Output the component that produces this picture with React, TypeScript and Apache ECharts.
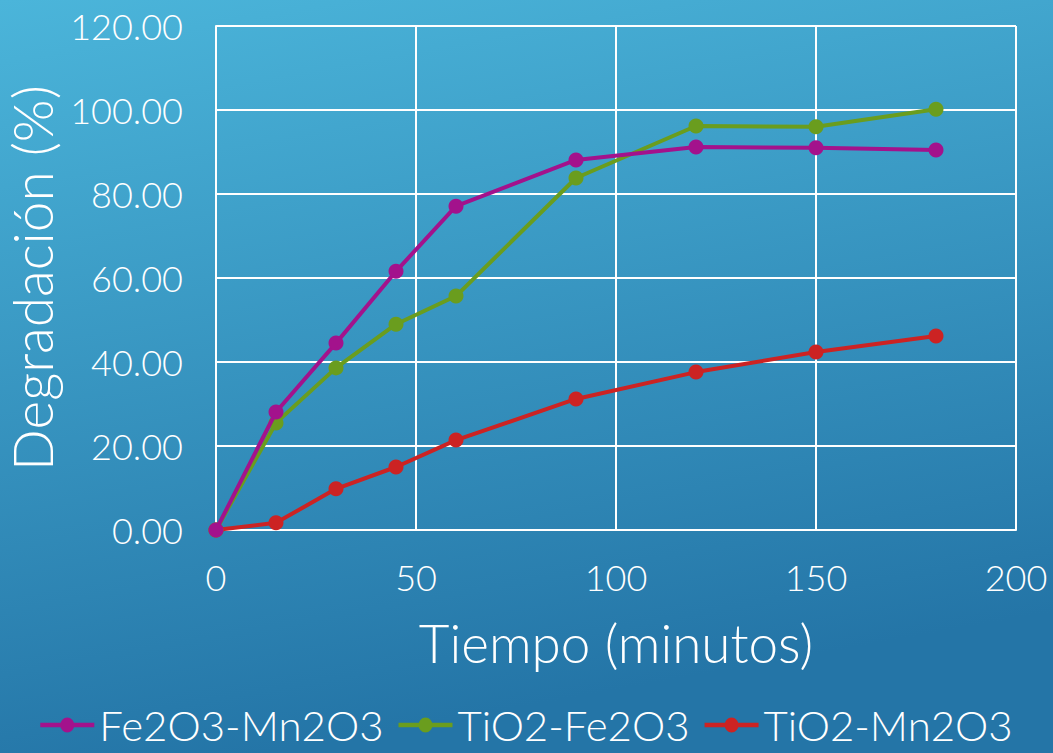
import React, { useEffect, useRef } from "react";
import * as echarts from "echarts";

const xValues = [0, 15, 30, 45, 60, 90, 120, 150, 180];
const seriesNames = ["Fe2O3-Mn2O3", "TiO2-Fe2O3", "TiO2-Mn2O3"];
const fe2o3Mn2o3 = [0, 28.1, 44.5, 61.6, 77.1, 88.1, 91.2, 91.0, 90.5];
const tio2Fe2o3 = [0, 25.5, 38.6, 49.0, 55.7, 83.8, 96.2, 96.0, 100.2];
const tio2Mn2o3 = [0, 1.7, 9.8, 15.0, 21.4, 31.2, 37.6, 42.4, 46.2];
const colors = ["#a3128c", "#6a9d1e", "#cc2323"];

const FONT = "Lato, 'DejaVu Sans', sans-serif";
const LEGEND_ICON =
  "path://M0,5.3H54V9.7H0Z M20,7.5A7,7.5 0 1,1 34,7.5A7,7.5 0 1,1 20,7.5Z";

export default function App() {
  const ref = useRef<HTMLDivElement>(null);
  useEffect(() => {
    document.body.style.margin = "0";
    const chart = echarts.init(ref.current!, null, { renderer: "svg" });
    const allData = [fe2o3Mn2o3, tio2Fe2o3, tio2Mn2o3];
    chart.setOption({
      animation: false,
      backgroundColor: new echarts.graphic.LinearGradient(0, 0, 0.25, 1, [
        { offset: 0, color: "#4bb5da" },
        { offset: 1, color: "#2475a7" },
      ]),
      textStyle: { fontFamily: FONT },
      grid: {
        left: 216,
        right: 37,
        top: 26,
        bottom: 223,
        containLabel: false,
        outerBoundsMode: "none",
      },
      legend: {
        bottom: 2,
        left: "center",
        itemWidth: 54,
        itemHeight: 15,
        itemGap: 15,
        data: seriesNames.map((name) => ({ name, icon: LEGEND_ICON })),
        textStyle: { color: "#ffffff", fontSize: 42, fontWeight: 300, fontFamily: FONT },
      },
      xAxis: {
        type: "value",
        min: 0,
        max: 200,
        interval: 50,
        name: "Tiempo (minutos)",
        nameLocation: "middle",
        nameGap: 86,
        nameTextStyle: { color: "#ffffff", fontSize: 53, fontWeight: 300 },
        axisLine: { show: true, lineStyle: { color: "#ffffff", width: 2 } },
        axisTick: { show: false },
        axisLabel: { color: "#ffffff", fontSize: 36, fontWeight: 300, margin: 29 },
        splitLine: { show: true, lineStyle: { color: "#ffffff", width: 2 } },
      },
      yAxis: {
        type: "value",
        min: 0,
        max: 120,
        interval: 20,
        name: "Degradación (%)",
        nameLocation: "middle",
        nameGap: 154,
        nameTextStyle: { color: "#ffffff", fontSize: 55, fontWeight: 300 },
        axisLine: { show: true, lineStyle: { color: "#ffffff", width: 2 } },
        axisTick: { show: false },
        axisLabel: {
          color: "#ffffff",
          fontSize: 36,
          fontWeight: 300,
          margin: 33,
          formatter: (v: number) => v.toFixed(2),
        },
        splitLine: { show: true, lineStyle: { color: "#ffffff", width: 2 } },
      },
      series: seriesNames.map((name, i) => ({
        name,
        type: "line",
        data: xValues.map((x, j) => [x, allData[i][j]]),
        symbol: "circle",
        symbolSize: 15,
        lineStyle: { width: 4, color: colors[i] },
        itemStyle: { color: colors[i] },
        z: 3 - i,
      })),
    });
    return () => chart.dispose();
  }, []);
  return <div ref={ref} style={{ width: 1053, height: 753 }} />;
}
